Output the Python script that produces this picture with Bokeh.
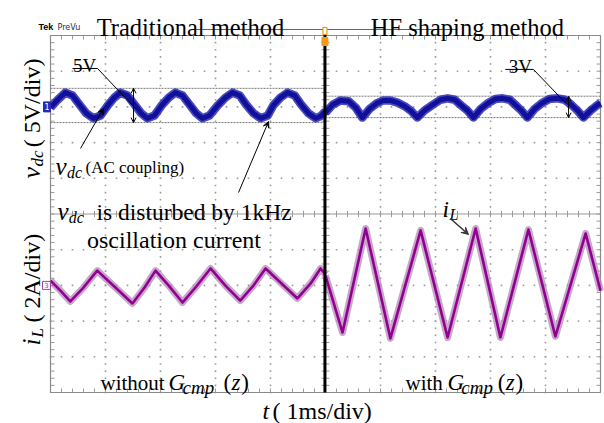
import numpy as np
from bokeh.plotting import figure
from bokeh.models import Range1d, Arrow, OpenHead, VeeHead
from bokeh.core.properties import value
from bokeh.embed import file_html
from bokeh.resources import INLINE

# ---------------- data ----------------
# time axis: 1 ms/div, trigger (method switch) at t = 5 ms
# Channel 1: v_dc, AC coupled, 5 V/div, channel marker at 8 div
CH1_POS, CH1_SCALE = 8.0, 5.0
vdc_t_trad = [0.00, 0.13, 0.27, 0.40, 0.53, 0.65, 0.78, 0.91, 1.04, 1.16,
              1.27, 1.40, 1.53, 1.65, 1.76, 1.89, 2.02, 2.15, 2.27, 2.40,
              2.53, 2.65, 2.76, 2.89, 3.04, 3.18, 3.31, 3.44, 3.56, 3.69,
              3.82, 3.95, 4.05, 4.18, 4.31, 4.44, 4.56, 4.69, 4.82, 4.91, 5.00]
vdc_v_trad = [-0.1, 1.0, 2.0, 1.6, 0.3, -0.9, -1.6, -1.2, 0.2, 1.3,
              2.0, 1.6, 0.3, -0.9, -1.6, -1.2, 0.2, 1.3, 2.0, 1.6,
              0.3, -0.9, -1.6, -1.2, 0.2, 1.3, 2.0, 1.6, 0.3, -0.9,
              -1.6, -1.2, 0.2, 1.3, 2.0, 1.6, 0.3, -0.9, -1.6, -1.3, -0.6]
vdc_t_hf = [5.00, 5.13, 5.27, 5.42, 5.55, 5.67, 5.80, 5.93, 6.05, 6.18,
            6.31, 6.44, 6.56, 6.67, 6.80, 6.95, 7.09, 7.22, 7.35, 7.47,
            7.58, 7.69, 7.82, 7.95, 8.09, 8.22, 8.35, 8.45, 8.56, 8.67,
            8.80, 8.93, 9.07, 9.22, 9.35, 9.47, 9.58, 9.69, 9.82, 9.95, 10.0]
vdc_v_hf = [-0.8, 0.3, 0.9, 0.8, -0.1, -1.5, -0.3, 0.5, 0.9, 0.9,
            0.6, 0.1, -0.6, -1.5, -0.5, 0.3, 1.0, 1.2, 1.0, 0.2,
            -0.5, -1.5, -0.3, 0.5, 1.1, 1.2, 1.0, 0.3, -0.5, -1.5,
            -0.3, 0.5, 1.1, 1.2, 1.0, 0.3, -0.5, -1.5, -0.5, 0.3, 0.5]

# Channel 3: i_L, 2 A/div, channel marker at 3 div
CH3_POS, CH3_SCALE = 3.0, 2.0
il_t_trad = [0.00, 0.18, 0.36, 0.60, 0.85, 1.18, 1.49, 1.71, 1.91, 2.15,
             2.40, 2.65, 2.91, 3.18, 3.45, 3.69, 3.91, 4.22, 4.49, 4.73, 4.91, 5.00]
il_a_trad = [0.27, -0.29, -0.90, -0.12, 0.83, -0.12, -1.01, -0.12, 0.83, -0.01,
             -0.96, -0.06, 0.95, -0.01, -0.85, -0.01, 0.95, 0.05, -0.73, 0.11, 0.95, 0.60]
il_t_hf = [5.00, 5.31, 5.73, 6.18, 6.73, 7.22, 7.73, 8.18, 8.69, 9.18, 9.73, 10.0]
il_a_hf = [0.55, -2.64, 3.19, -2.97, 3.08, -2.92, 3.19, -2.92, 3.13, -2.86, 2.91, -0.30]

# cursor levels (V) on v_dc
cursor_trad = [2.6, -2.2]
cursor_hf = [1.5, -1.5]

# ---------------- figure ----------------
PX_X = 55.0   # px per div (x)
PX_Y = 35.7   # px per div (y)
W, H = 604, 423
LEFT_PX, BOTTOM_PX = 50, 392
x0 = -LEFT_PX / PX_X
x1 = (W - LEFT_PX) / PX_X
y0 = (BOTTOM_PX - H) / PX_Y
y1 = BOTTOM_PX / PX_Y

p = figure(width=W, height=H, x_range=Range1d(x0, x1), y_range=Range1d(y0, y1),
           output_backend="svg", toolbar_location=None,
           x_axis_location=None, y_axis_location=None, min_border=0)
p.grid.visible = False
p.outline_line_color = None
p.background_fill_color = "white"
p.border_fill_color = "white"

SERIF = value("Liberation Serif")
dx = 1.0 / PX_X
dy = 1.0 / PX_Y

# graticule dots
minor = np.round(np.arange(0, 10.0001, 0.2), 3)
gx, gy = [], []
for k in range(1, 10):
    if k == 5:
        continue
    gx += list(minor); gy += [k] * len(minor)
    gx += [k] * len(minor); gy += list(minor)
p.scatter(gx, gy, marker="square", size=1.6, color="#9a9a9a", line_width=0)

# centre lines
p.line([0, 10], [5, 5], line_color="#9a9a9a", line_width=1)
p.line([5, 5], [0, 10], line_color="#9a9a9a", line_width=1)

# ticks on border and centre lines
tl_x = 4 * dx
tl_y = 4 * dy
sx0, sy0, sx1, sy1 = [], [], [], []
for m in minor:
    sx0 += [m, m]; sy0 += [0, 10]; sx1 += [m, m]; sy1 += [tl_y, 10 - tl_y]
    sx0.append(m); sy0.append(5 - tl_y * 0.8); sx1.append(m); sy1.append(5 + tl_y * 0.8)
    sx0 += [0, 10]; sy0 += [m, m]; sx1 += [tl_x, 10 - tl_x]; sy1 += [m, m]
    sx0.append(5 - tl_x); sy0.append(m); sx1.append(5 + tl_x); sy1.append(m)
p.segment(sx0, sy0, sx1, sy1, line_color="#9a9a9a", line_width=1)
p.quad(left=[0], right=[10], bottom=[0], top=[10], fill_color=None,
       line_color="#8a8a8a", line_width=1.2)

# cursors
for lv in cursor_trad:
    p.line([0, 5], [CH1_POS + lv / CH1_SCALE] * 2, line_color="#777777",
           line_width=1, line_dash="2 1")
for lv in cursor_hf:
    p.line([5, 10], [CH1_POS + lv / CH1_SCALE] * 2, line_color="#777777",
           line_width=1, line_dash="2 1")

# waveforms
def ch1(v):
    return [CH1_POS + a / CH1_SCALE for a in v]

def ch3(v):
    return [CH3_POS + a / CH3_SCALE for a in v]

for tt, vv in ((vdc_t_trad, vdc_v_trad), (vdc_t_hf, vdc_v_hf)):
    p.line(tt, ch1(vv), line_color="#2a2ab4", line_width=8.5, line_alpha=0.85,
           line_join="round")
    p.line(tt, ch1(vv), line_color="#10109a", line_width=5, line_join="round")

for tt, vv in ((il_t_trad, il_a_trad), (il_t_hf, il_a_hf)):
    p.line(tt, ch3(vv), line_color="#b48ab8", line_width=7, line_alpha=0.75,
           line_join="round")
    p.line(tt, ch3(vv), line_color="#920092", line_width=2.6, line_join="round")

# trigger / method switch line
p.line([4.99, 4.99], [0, 10 + 2 * dy], line_color="black", line_width=3)
# top record bar and trigger marker
p.line([2.636, 7.40], [10.168, 10.168], line_color="#5858cc", line_width=1.2)
p.quad(left=[4.99 - 3 * dx], right=[4.99 + 3 * dx], bottom=[10 - 10 * dy],
       top=[10 - 2 * dy], fill_color="#f29a1a", line_color="#f29a1a")
p.quad(left=[4.99 - 2 * dx], right=[4.99 + 2 * dx], bottom=[10 + 1 * dy],
       top=[10 + 8 * dy], fill_color="white", line_color="#f29a1a", line_width=1.2)

# channel markers
p.quad(left=[-7 * dx], right=[0], bottom=[CH1_POS - 5 * dy], top=[CH1_POS + 5 * dy],
       fill_color="#2a2ab8", line_color="#2a2ab8")
p.text([-3.5 * dx], [CH1_POS], text=["1"], text_color="white", text_font_size="8px",
       text_align="center", text_baseline="middle", text_font=value("DejaVu Sans"))
p.quad(left=[-8 * dx], right=[0], bottom=[CH3_POS - 4 * dy], top=[CH3_POS + 4 * dy],
       fill_color="white", line_color="#a040a0")
p.text([-4 * dx], [CH3_POS], text=["3"], text_color="#a040a0", text_font_size="7px",
       text_align="center", text_baseline="middle", text_font=value("DejaVu Sans"))

# "Tek PreVu"
p.text([-0.218], [10.11], text=["Tek"], text_font=value("Liberation Sans"),
       text_font_size="9px", text_font_style="bold", text_color="black")
p.text([0.127], [10.11], text=["PreVu"], text_font=value("DejaVu Sans"),
       text_font_size="8px", text_color="#2a2a50")

def txt(x, y, s, size="22px", style="normal", align="left", angle=0.0, color="black"):
    p.text([x], [y], text=[s], text_font=SERIF, text_font_size=size,
           text_font_style=style, text_align=align, text_baseline="alphabetic",
           angle=angle, text_color=color)

# titles
txt(2.545, 10.224, "Traditional method", size="24.5px", align="center")
txt(7.58, 10.224, "HF shaping method", size="24.5px", align="center")

# 5V / 3V annotations
txt(0.62, 9.16, "5V", size="19px", align="center")
p.line([0.40, 0.855, 1.545], [9.076, 9.076, 7.955], line_color="black", line_width=1)
txt(8.545, 9.13, "3V", size="19px", align="center")
p.line([8.27, 8.78, 9.36], [9.05, 9.05, 8.12], line_color="black", line_width=1)
for xa, lv in ((1.51, cursor_trad), (9.42, cursor_hf)):
    p.add_layout(Arrow(start=OpenHead(size=5, line_width=1), end=OpenHead(size=5, line_width=1),
                       x_start=xa, y_start=CH1_POS + lv[0] / CH1_SCALE,
                       x_end=xa, y_end=CH1_POS + lv[1] / CH1_SCALE,
                       line_width=1, line_color="black"))

# v_dc (AC coupling)
txt(0.09, 6.33, "v", size="25px", style="italic")
txt(0.30, 6.16, "dc", size="16px", style="italic")
txt(0.636, 6.30, "(AC coupling)", size="17px")
p.add_layout(Arrow(end=VeeHead(size=6, fill_color="black", line_color="black"),
                   x_start=0.545, y_start=6.835, x_end=0.964, y_end=7.955,
                   line_width=1, line_color="black"))

# v_dc is disturbed by 1kHz oscillation current
txt(0.127, 5.07, "v", size="25px", style="italic")
txt(0.33, 4.90, "dc", size="16px", style="italic")
txt(0.836, 5.07, "is disturbed by 1kHz", size="23.5px")
txt(2.245, 4.258, "oscillation current", size="24px", align="center")
p.add_layout(Arrow(end=VeeHead(size=6, fill_color="black", line_color="black"),
                   x_start=3.418, y_start=5.60, x_end=3.964, y_end=7.59,
                   line_width=1, line_color="black"))

# i_L label
txt(7.127, 5.126, "i", size="23px", style="italic")
txt(7.255, 4.986, "L", size="16px", style="italic")
p.add_layout(Arrow(end=VeeHead(size=7, fill_color="#333333", line_color="#333333"),
                   x_start=7.27, y_start=4.874, x_end=7.60, y_end=4.426,
                   line_width=1.5, line_color="#333333"))

# without / with G_cmp(z)
txt(0.909, 0.28, "without", size="21px")
txt(2.145, 0.28, "G", size="23px", style="italic")
txt(2.40, 0.15, "cmp", size="19px", style="italic")
txt(3.145, 0.28, "(", size="23px")
txt(3.29, 0.28, "z", size="23px", style="italic")
txt(3.47, 0.28, ")", size="23px")

txt(6.455, 0.28, "with", size="21px")
txt(7.218, 0.28, "G", size="23px", style="italic")
txt(7.47, 0.15, "cmp", size="19px", style="italic")
txt(8.13, 0.28, "(", size="23px")
txt(8.275, 0.28, "z", size="23px", style="italic")
txt(8.455, 0.28, ")", size="23px")

# x axis label
txt(3.855, -0.53, "t", size="24px", style="italic")
txt(4.036, -0.53, "( 1ms/div)", size="24px")

# rotated y labels
ang = np.pi / 2
txt(-0.345, 5.994, "v", size="26px", style="italic", angle=ang)
txt(-0.24, 6.33, "dc", size="17px", style="italic", angle=ang)
txt(-0.345, 6.87, "( 5V/div)", size="24px", angle=ang)

txt(-0.345, 1.317, "i", size="25px", style="italic", angle=ang)
txt(-0.24, 1.54, "L", size="17px", style="italic", angle=ang)
txt(-0.345, 1.96, "( 2A/div)", size="24px", angle=ang)

open("out.html", "w").write(file_html(p, INLINE))
